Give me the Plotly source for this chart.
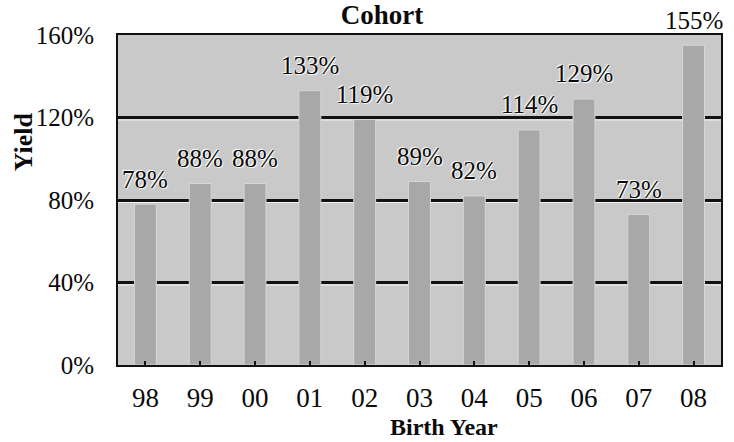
import plotly.graph_objects as go

# Cohort yield by birth year
years = ["98", "99", "00", "01", "02", "03", "04", "05", "06", "07", "08"]
yield_pct = [78, 88, 88, 133, 119, 89, 82, 114, 129, 73, 155]
y_ticks = [0, 40, 80, 120, 160]

SERIF = "Liberation Serif, Times New Roman, serif"
W, H = 734, 442
ML, MR, MT, MB = 118, 11, 35, 77

fig = go.Figure()
fig.add_trace(go.Bar(
    x=years,
    y=yield_pct,
    marker=dict(color="#a8a8a8", line=dict(color="#d6d6d6", width=1)),
    width=0.4,
    hoverinfo="skip",
))

# value labels above each bar (category index position), with a light halo
annotations = []
for i, v in enumerate(yield_pct):
    annotations.append(dict(
        x=i, y=v, xref="x", yref="y",
        text=f"{v}%", showarrow=False,
        yanchor="middle", yshift=25,
        font=dict(family=SERIF, size=25, color="#0a0a0a",
                  shadow="1px 1px 1px #ffffff, -1px -1px 1px #ffffff"),
    ))

plot_w = W - ML - MR
plot_h = H - MT - MB
# axis titles
annotations.append(dict(
    x=(23 - ML) / plot_w, y=(H - MB - 142) / plot_h, xref="paper", yref="paper",
    text="<b>Yield</b>", textangle=-90, showarrow=False,
    xanchor="center", yanchor="middle",
    font=dict(family=SERIF, size=26, color="#0a0a0a"),
))
annotations.append(dict(
    x=(445 - ML) / plot_w, y=(H - MB - 427) / plot_h, xref="paper", yref="paper",
    text="<b>Birth Year</b>", showarrow=False,
    xanchor="center", yanchor="middle",
    font=dict(family=SERIF, size=24, color="#0a0a0a"),
))

# white highlight just under each interior gridline
shapes = []
for t in y_ticks[1:-1]:
    shapes.append(dict(
        type="line", xref="paper", x0=0, x1=1,
        yref="y", ysizemode="pixel", yanchor=t, y0=-2.5, y1=-2.5,
        line=dict(color="#f2f2f2", width=1), layer="between",
    ))

fig.update_layout(
    width=W, height=H,
    margin=dict(l=ML, r=MR, t=MT, b=MB),
    paper_bgcolor="white",
    plot_bgcolor="#c9c9c9",
    showlegend=False,
    title=dict(text="<b>Cohort</b>", x=382 / W, xanchor="center",
               y=1 - 15 / H, yanchor="middle", yref="container",
               font=dict(family=SERIF, size=27, color="#0a0a0a")),
    annotations=annotations,
    shapes=shapes,
    xaxis=dict(
        type="category",
        categoryorder="array", categoryarray=years,
        range=[-0.5, len(years) - 0.5],
        showline=True, linecolor="#111111", linewidth=2, mirror=True,
        ticks="inside", ticklen=4, tickwidth=1.5, tickcolor="#111111",
        tickfont=dict(family=SERIF, size=27, color="#0a0a0a"),
        ticklabelstandoff=8,
        showgrid=False,
    ),
    yaxis=dict(
        range=[0, 160],
        tickvals=y_ticks,
        ticktext=[f"{t}%" for t in y_ticks],
        showline=True, linecolor="#111111", linewidth=2, mirror=True,
        showgrid=True, gridcolor="#111111", gridwidth=2.5,
        zeroline=False,
        ticks="",
        tickfont=dict(family=SERIF, size=25, color="#0a0a0a"),
        ticklabelstandoff=17,
    ),
)

fig.write_html("out.html")
